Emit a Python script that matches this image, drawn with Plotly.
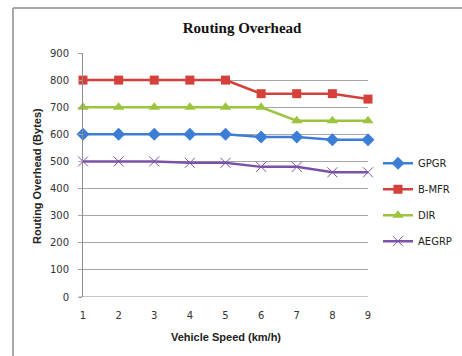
import plotly.graph_objects as go

speeds = [1, 2, 3, 4, 5, 6, 7, 8, 9]
gpgr = [600, 600, 600, 600, 600, 590, 590, 580, 580]
bmfr = [800, 800, 800, 800, 800, 750, 750, 750, 730]
dir_ = [700, 700, 700, 700, 700, 700, 650, 650, 650]
aegrp = [500, 500, 500, 495, 495, 480, 480, 460, 460]
y_ticks = [0, 100, 200, 300, 400, 500, 600, 700, 800, 900]

series = [
    ("GPGR", gpgr, "#3c7ed6", dict(symbol="diamond", size=10)),
    ("B-MFR", bmfr, "#d6403b", dict(symbol="square", size=9)),
    ("DIR", dir_, "#9cc43f", dict(symbol="triangle-up", size=10)),
    ("AEGRP", aegrp, "#7b52a8", dict(symbol="x-thin-open", size=10, line=dict(width=1, color="#b7a0d6"))),
]

fig = go.Figure()
for name, vals, color, mk in series:
    marker = dict(color=color, **mk)
    fig.add_trace(go.Scatter(
        x=speeds, y=vals, name=name, mode="lines+markers",
        line=dict(color=color, width=2.5), marker=marker,
        legendgroup=name, cliponaxis=False,
    ))

tickfont = dict(family="DejaVu Sans", size=10, color="#333")
fig.update_layout(
    width=462, height=356,
    margin=dict(l=83, r=94, t=53, b=59, autoexpand=False),
    paper_bgcolor="white", plot_bgcolor="white",
    showlegend=True,
    legend=dict(x=1.035, y=0.608, xanchor="left", yanchor="top",
                font=dict(family="DejaVu Sans", size=10, color="#222"),
                itemwidth=30, tracegroupgap=7, bgcolor="rgba(0,0,0,0)"),
    xaxis=dict(range=[1, 9], tickvals=speeds, showgrid=False, zeroline=False,
               showline=False, ticks="outside", ticklen=9, tickcolor="rgba(0,0,0,0)",
               tickfont=tickfont),
    yaxis=dict(range=[0, 900], tickvals=y_ticks, showgrid=True, gridcolor="#a6a6a6",
               gridwidth=1, zeroline=False, showline=True, linecolor="#8c8c8c", linewidth=1,
               ticks="outside", ticklen=4, tickcolor="#a6a6a6", ticklabelstandoff=7,
               tickfont=tickfont),
    title=dict(text="<b>Routing Overhead</b>", x=0.524, y=1 - 28 / 356, xanchor="center",
               yanchor="middle", xref="container",
               font=dict(family="Liberation Serif", size=15, color="#111")),
    annotations=[
        dict(text="<b>Vehicle Speed (km/h)</b>", xref="paper", yref="paper",
             x=(226 - 83) / 285, y=-40 / 244, xanchor="center", yanchor="middle", showarrow=False,
             font=dict(family="Liberation Sans", size=11, color="#222")),
        dict(text="<b>Routing Overhead (Bytes)</b>", xref="paper", yref="paper",
             x=-46 / 285, y=0.496, xanchor="center", yanchor="middle", showarrow=False,
             textangle=-90, font=dict(family="Liberation Sans", size=11, color="#222")),
    ],
    shapes=[
        dict(type="line", xref="paper", yref="paper", x0=-70 / 285, x1=1.4, y0=289 / 244, y1=289 / 244,
             line=dict(color="#8c8c8c", width=1.5)),
        dict(type="line", xref="paper", yref="paper", x0=-70 / 285, x1=-70 / 285, y0=289 / 244, y1=-0.4,
             line=dict(color="#8c8c8c", width=1.5)),
        dict(type="line", xref="paper", yref="y", x0=-4 / 285, x1=1, y0=0, y1=0,
             line=dict(color="#8c8c8c", width=1)),
    ],
)

fig.write_html("out.html", config={"displayModeBar": False},
               post_script="document.body.style.margin='0';document.body.style.padding='0';")
